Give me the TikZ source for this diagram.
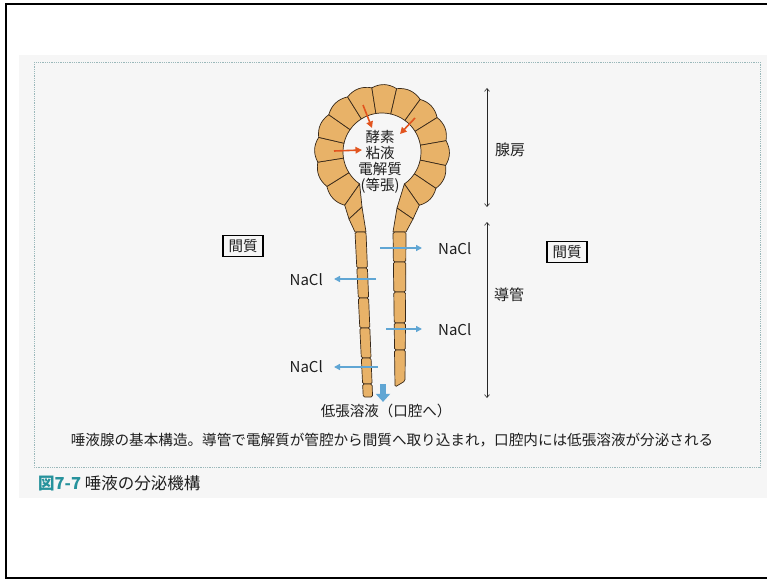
\documentclass[tikz,border=0pt]{standalone}
\usepackage{fontspec}
\setmainfont{Noto Sans CJK JP}
\usepackage{tikz}
\usetikzlibrary{
	positioning,
	calc,
	arrows.meta
}

\definecolor{celltan}{RGB}{232,178,104}
\definecolor{celledge}{RGB}{55,40,25}
\definecolor{enzred}{RGB}{226,84,30}
\definecolor{ionblue}{RGB}{96,166,212}
\definecolor{figteal}{RGB}{38,146,156}
\definecolor{pagegray}{RGB}{246,246,246}
\definecolor{textdark}{RGB}{30,30,30}

\begin{document}
\begin{tikzpicture}[
	x=1pt, y=-1pt,
	c_cell/.style={
		draw=celledge,
		fill=celltan,
		line width=0.7pt,
		line join=round
	},
	c_label/.style={
		text=textdark,
		inner sep=0pt,
		font=\fontsize{15}{16}\selectfont
	},
	c_box/.style={
		draw=black,
		line width=1.3pt,
		text=textdark,
		minimum width=40pt,
		minimum height=21pt,
		inner sep=2pt,
		font=\fontsize{14.5}{16}\selectfont
	},
	c_ion/.style={
		ionblue,
		line width=1.4pt,
		-{Triangle[length=6pt,width=6pt]}
	},
	c_enz/.style={
		enzred,
		line width=1.6pt,
		-{Triangle[length=6.5pt,width=6.5pt]}
	},
	c_span/.style={
		gray!30!black,
		line width=0.6pt,
		{Straight Barb[length=3pt,width=5pt]}-{Straight Barb[length=3pt,width=5pt]}
	}
	]
	
	% =========================================================================
	% PAGE
	% =========================================================================
	
	\fill[white] (0,0) rectangle (767,580);
	\useasboundingbox (0,0) rectangle (767,580);
	
	\draw[black,line width=2pt]
	(767,4)--(6,4)--(6,578)--(767,578);
	
	\fill[pagegray] (19,55) rectangle (767,498);
	
	% Figure frame
	\draw[figteal!45!gray!60,densely dotted,line width=0.8pt]
	(34,62) rectangle (760,467);
	
	% =========================================================================
	% ACINUS
	% =========================================================================
	
	\begin{scope}[shift={(382,152)}]
		
		% Ring of secretory cells
		\foreach \a/\b in {125/148,148/171,171/193,193/215,215/238,238/261,261/283,
			283/306,306/328,328/350,350/372,372/394,394/415}
		{
			\draw[c_cell]
			(\a:39)--(\a:65) to[bend left=30] (\b:65)--(\b:39)
			arc[start angle=\b,end angle=\a,radius=39]--cycle;
		}
		
		\coordinate (nl_in) at (125:39);
		\coordinate (nl_out) at (125:65);
		\coordinate (nr_in) at (415:39);
		\coordinate (nr_out) at (415:65);
		
	\end{scope}
	
	% Neck into the duct
	\coordinate (dl_out) at (355,232);
	\coordinate (dl_in) at (366,232);
	\coordinate (dr_in) at (393,232);
	\coordinate (dr_out) at (406,232);
	
	\draw[c_cell] (nl_out)--(349,219)--(362,207)--(nl_in)--cycle;
	\draw[c_cell] (349,219)--(dl_out)--(dl_in)--(362,207)--cycle;
	
	\draw[c_cell] (nr_in)--(397,208)--(413,219)--(nr_out)--cycle;
	\draw[c_cell] (397,208)--(dr_in)--(dr_out)--(413,219)--cycle;
	
	% =========================================================================
	% DUCT
	% =========================================================================
	
	% Left wall
	\foreach \ya/\yb in {232/268,268/298,298/328,328/358,358/384,384/397}
	{
		\draw[c_cell,rounded corners=1.5pt]
		({355+(\ya-232)*0.05},\ya)--({355+(\yb-232)*0.05},\yb)
		--({366+(\yb-232)*0.04},\yb)--({366+(\ya-232)*0.04},\ya)--cycle;
	}
	
	% Right wall
	\foreach \ya/\yb in {232/262,262/292,292/323,323/350}
	{
		\draw[c_cell,rounded corners=1.5pt]
		({393+(\ya-232)*0.013},\ya)--({393+(\yb-232)*0.013},\yb)
		--({406-(\yb-232)*0.006},\yb)--({406-(\ya-232)*0.006},\ya)--cycle;
	}
	
	\draw[c_cell,rounded corners=1.5pt]
	(394.5,350)--(395,387)--(405,381)--(405.3,350)--cycle;
	
	% =========================================================================
	% LUMEN CONTENT
	% =========================================================================
	
	\node[c_label,align=center,font=\fontsize{14.5}{16.2}\selectfont]
	(lumen) at (380,162) {酵素\\粘液\\電解質\\(等張)};
	
	% Secretion into the lumen
	\coordinate (e1s) at (363,105);
	\coordinate (e1e) at (372,128);
	\coordinate (e2s) at (415,118);
	\coordinate (e2e) at (400,134);
	\coordinate (e3s) at (334,151);
	\coordinate (e3e) at (362,150);
	
	\draw[c_enz] (e1s)--(e1e);
	\draw[c_enz] (e2s)--(e2e);
	\draw[c_enz] (e3s)--(e3e);
	
	% =========================================================================
	% NaCl UPTAKE
	% =========================================================================
	
	\node[c_label,anchor=west] (nacl1) at (438,249) {NaCl};
	\node[c_label,anchor=east] (nacl2) at (323,280) {NaCl};
	\node[c_label,anchor=west] (nacl3) at (438,330) {NaCl};
	\node[c_label,anchor=east] (nacl4) at (323,367) {NaCl};
	
	\coordinate (ion1) at (380,248);
	\coordinate (ion2) at (376,279);
	\coordinate (ion3) at (386,329);
	\coordinate (ion4) at (378,367);
	
	\draw[c_ion,shorten >=16pt] (ion1)--(ion1-|nacl1.west);
	\draw[c_ion,shorten >=11pt] (ion2)--(ion2-|nacl2.east);
	\draw[c_ion,shorten >=16pt] (ion3)--(ion3-|nacl3.west);
	\draw[c_ion,shorten >=11pt] (ion4)--(ion4-|nacl4.east);
	
	% Interstitium labels
	\node[c_box] (interst_l) at (243,246) {間質};
	\node[c_box] (interst_r) at (567,252) {間質};
	
	% =========================================================================
	% OUTFLOW
	% =========================================================================
	
	\node[c_label,font=\fontsize{14.5}{16}\selectfont]
	(saliva) at (386,411) {低張溶液（口腔へ）};
	
	\coordinate (out_s) at (383,384);
	
	\draw[ionblue,line width=6pt,-{Triangle[length=8pt,width=14pt]},shorten >=2pt]
	(out_s)--(out_s|-saliva.north);
	
	% =========================================================================
	% SPANS
	% =========================================================================
	
	\coordinate (acn_top) at (487,88);
	\coordinate (acn_bot) at (487,207);
	\coordinate (duc_top) at (487,222);
	\coordinate (duc_bot) at (487,398);
	
	\draw[c_span] (acn_top)--(acn_bot);
	\draw[c_span] (duc_top)--(duc_bot);
	
	\node[c_label,anchor=west] (acinus) at (495,150) {腺房};
	\node[c_label,anchor=west] (duct) at (494,295) {導管};
	
	% =========================================================================
	% CAPTIONS
	% =========================================================================
	
	\node[c_label,font=\fontsize{14.6}{18}\selectfont]
	(legend) at (392,440)
	{唾液腺の基本構造。導管で電解質が管腔から間質へ取り込まれ，口腔内には低張溶液が分泌される};
	
	\node[c_label,anchor=west,font=\fontsize{16.5}{18}\selectfont]
	(title) at (38,483)
	{\textcolor{figteal}{\bfseries 図7-7}\ 唾液の分泌機構};
	
\end{tikzpicture}
\end{document}
